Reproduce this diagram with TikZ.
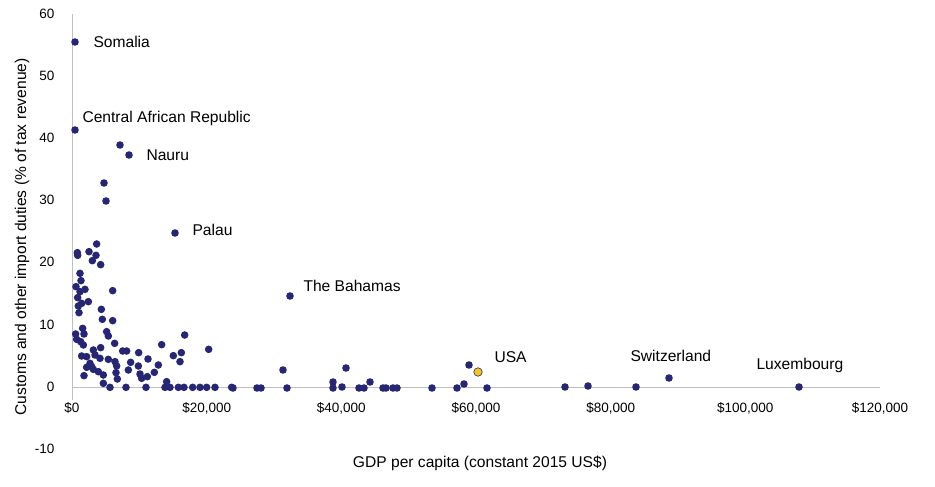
\documentclass[tikz,border=0pt]{standalone}
\usepackage{fontspec}
\setmainfont{Liberation Sans}
\definecolor{navy}{HTML}{262673}
\definecolor{gold}{HTML}{F5C518}
\definecolor{axis}{HTML}{BFBFBF}
\begin{document}
\begin{tikzpicture}[x=1pt,y=-1pt,
  dot/.style={circle,fill=navy,inner sep=0pt,minimum size=7.6pt},
  lab/.style={anchor=west,font=\fontsize{15.6}{15.6}\selectfont},
  ttl/.style={font=\fontsize{15.6}{15.6}\selectfont},
  tick/.style={font=\fontsize{13.5}{13.5}\selectfont}]
\useasboundingbox (0,0) rectangle (935,487);
\draw[axis,line width=1pt] (72,387) -- (880,387);
\draw[axis,line width=1pt] (72,14) -- (72,400);
\foreach \v/\y in {60/14,50/76,40/138,30/200,20/262,10/325,0/387,-10/449}
  \node[tick,anchor=east] (y\y) at (58,\y) {\v};
\foreach \l/\x in {\$0/72,\$20{,}000/206.7,\$40{,}000/341.3,\$60{,}000/476,\$80{,}000/610.7,\$100{,}000/745.3,\$120{,}000/880}
  \node[tick] (x\x) at (\x,408) {\l};
\node[ttl,rotate=90] (ytitle) at (22,237) {Customs and other import duties (\% of tax revenue)};
\node[ttl] (xtitle) at (480,463) {GDP per capita (constant 2015 US\$)};
\foreach \zx/\zy [count=\i] in {52/68,53/76,87/65,110/42,108/76,97/92,122/104,60/130,63/152,48/170,75/178,60/185,53/203,85/215,65/220,55/228,57/248,158/182,124/238,127/268,158/272,68/295,47/312,72/312,50/328,62/335,70/345,140/305,145/318,164/340,374/315,305/344,446/358,100/360,122/353,188/363,200/363,236/368,264/387,340/377,364/368,360/395,65/378,80/380,105/375,120/385,145/388,165/395,170/408,212/397,235/408,295/405,90/400,95/410,80/412,100/418,115/425,130/435,72/437,168/428,172/447,205/420,240/432,245/445,262/440,283/427,130/460,150/472,198/472,258/472,320/455,315/472,330/472,355/472,372/472,398/472,420/472,440/472,465/472,515/472}
  \node[dot] (a\i) at ({60+\zx/3},{230+\zy/3}) {};
\foreach \px/\py [count=\i] in {233/388,257/388,261/388,283/370,287/388,333/382,333/388,346/368,342/387,359/388,364/388,370/382,383/388,386/388,393/388,397/388,432/388,457/388,464/384,469/365,487/388,565/387,588/386,636/387,669/378,799/387,75/42,75/130,120/145,129/155,104/183,106/201,175/233,290/296}
  \node[dot] (b\i) at (\px,\py) {};
\node[dot,fill=gold,draw=navy,line width=0.6pt,minimum size=8.5pt] (usa) at (478,372) {};
\node[lab] (l1) at (90,42) {Somalia};
\node[lab] (l2) at (79,118) {Central African Republic};
\node[lab] (l3) at (143,155) {Nauru};
\node[lab] (l4) at (189,230) {Palau};
\node[lab] (l5) at (300,286) {The Bahamas};
\node[lab] (l6) at (491,357) {USA};
\node[lab] (l7) at (627,356) {Switzerland};
\node[lab] (l8) at (753,365) {Luxembourg};
\end{tikzpicture}
\end{document}
